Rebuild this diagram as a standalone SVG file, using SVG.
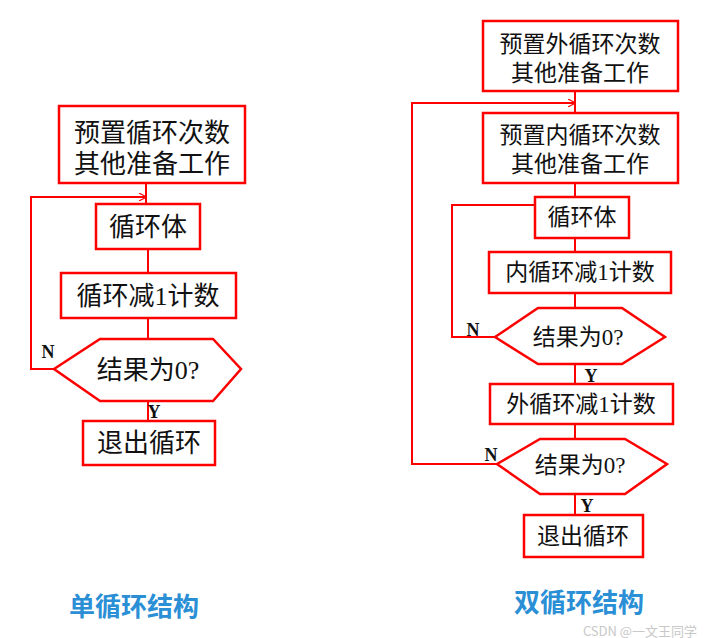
<svg xmlns="http://www.w3.org/2000/svg" width="719" height="638" viewBox="0 0 719 638">
<defs>
<style>
.b{fill:#fff;stroke:#f00;stroke-width:2.5}
.c{fill:none;stroke:#f00;stroke-width:2}
.t{font-family:"Liberation Serif","Noto Sans CJK SC",serif;font-size:23px;fill:#111;text-anchor:middle}
.tl{font-size:26px}
.l{font-family:"Liberation Serif",serif;font-size:18px;font-weight:bold;fill:#111;text-anchor:middle}
.h{font-family:"Noto Sans CJK SC",sans-serif;font-size:26px;font-weight:bold;fill:#2b8fd6;text-anchor:middle}
</style>
<marker id="a" viewBox="0 0 10 10" refX="9" refY="5" markerWidth="8" markerHeight="8" orient="auto" markerUnits="userSpaceOnUse"><path d="M0,0 L10,5 L0,10" fill="none" stroke="#f00" stroke-width="1.5"/></marker>
</defs>
<rect width="719" height="638" fill="#fff"/>
<g id="connectors">
<path class="c" d="M146,183 V204 M148,249 V273 M148,318 V339 M148,401 V421"/>
<path class="c" d="M54,369 H31 V197 H146" marker-end="url(#a)" stroke-width="1.5"/>
<path class="c" d="M575,91 V113 M575,183 V197 M575,238 V252 M575,293 V308 M575,364 V384 M575,424 V439 M575,494 V515"/>
<path class="c" d="M497,464 H412 V103 H575" marker-end="url(#a)"/>
<path class="c" d="M535,205 H452 V337 H495"/>
</g>
<g id="n1"><rect class="b" x="59" y="106" width="186" height="77"/><text class="t tl" x="152" y="142">预置循环次数</text><text class="t tl" x="152" y="173">其他准备工作</text></g>
<g id="n2"><rect class="b" x="96" y="204" width="104" height="45"/><text class="t tl" x="148" y="236">循环体</text></g>
<g id="n3"><rect class="b" x="61" y="273" width="175" height="45"/><text class="t tl" x="148" y="305">循环减1计数</text></g>
<g id="n4"><polygon class="b" points="54,369 100,339 213,339 241,369 213,401 100,401"/><text class="t tl" x="148" y="379">结果为0?</text></g>
<g id="n5"><rect class="b" x="83" y="421" width="132" height="44"/><text class="t tl" x="149" y="452">退出循环</text></g>
<text class="l" x="48" y="358">N</text>
<text class="l" x="154" y="418">Y</text>
<g id="m1"><rect class="b" x="483" y="21" width="195" height="70"/><text class="t" x="580" y="52">预置外循环次数</text><text class="t" x="580" y="81">其他准备工作</text></g>
<g id="m2"><rect class="b" x="483" y="113" width="195" height="70"/><text class="t" x="580" y="143">预置内循环次数</text><text class="t" x="580" y="172">其他准备工作</text></g>
<g id="m3"><rect class="b" x="535" y="197" width="94" height="41"/><text class="t" x="582" y="225">循环体</text></g>
<g id="m4"><rect class="b" x="489" y="252" width="182" height="41"/><text class="t" x="580" y="280">内循环减1计数</text></g>
<g id="m5"><polygon class="b" points="495,337 538,308 622,308 665,337 622,364 538,364"/><text class="t" x="578" y="345">结果为0?</text></g>
<g id="m6"><rect class="b" x="490" y="384" width="183" height="40"/><text class="t" x="581" y="412">外循环减1计数</text></g>
<g id="m7"><polygon class="b" points="497,464 540,439 625,439 667,464 625,494 540,494"/><text class="t" x="580" y="473">结果为0?</text></g>
<g id="m8"><rect class="b" x="524" y="515" width="119" height="42"/><text class="t" x="583" y="544">退出循环</text></g>
<text class="l" x="473" y="336">N</text>
<text class="l" x="591" y="382">Y</text>
<text class="l" x="491" y="461">N</text>
<text class="l" x="587" y="512">Y</text>
<text class="h" x="134" y="616">单循环结构</text>
<text class="h" x="579" y="612">双循环结构</text>
<text x="640" y="636" font-family="Noto Sans CJK SC,sans-serif" font-size="13" fill="#bbb" text-anchor="middle" opacity="0.8">CSDN @一文王同学</text>
</svg>
